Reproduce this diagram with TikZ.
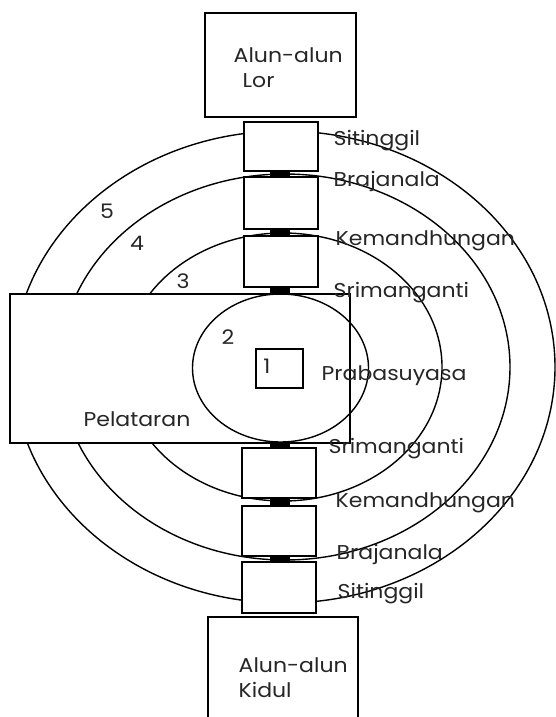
\documentclass[tikz,border=0pt]{standalone}
\usepackage{fontspec}
\setmainfont[FakeStretch=1.1]{Poppins}
\usetikzlibrary{positioning}

\begin{document}
\begin{tikzpicture}[x=1pt,y=-1pt,line width=1.4pt,
                    box/.style={draw,fill=white,inner sep=0pt},
                    gatebox/.style={box,minimum width=74pt},
                    bar/.style={fill=black,inner sep=0pt,minimum width=20pt,minimum height=7pt},
                    lbl/.style={anchor=base west,inner sep=0pt,text=black!85,
                                font=\fontsize{20}{24}\selectfont},
                    num/.style={inner sep=0pt,text=black!85,font=\fontsize{20}{24}\selectfont}]
  \useasboundingbox (0,0) rectangle (555,717);
  % rings 3, 4, 5
  \draw (284,367) ellipse [x radius=271pt, y radius=236pt];
  \draw (285,367) ellipse [x radius=225pt, y radius=193pt];
  \draw (283,367) ellipse [x radius=159pt, y radius=134pt];
  % court
  \node[box,minimum width=340pt,minimum height=149pt] (pel) at (180,368.5) {};
  \draw (280.5,368) ellipse [x radius=88pt, y radius=74pt];
  \node[draw,inner sep=0pt,minimum width=47pt,minimum height=39pt] (core) at (279.5,368.5) {};
  % squares north and south
  \node[box,minimum width=151pt,minimum height=104pt] (lor) at (280.5,65) {};
  \node[box,minimum width=150pt,minimum height=110pt] (kidul) at (283,672) {};
  % gates north
  \node[gatebox,minimum height=49pt] (g1) at (281,146.5) {};
  \node[gatebox,minimum height=52pt] (g2) at (281,203) {};
  \node[gatebox,minimum height=51pt] (g3) at (281,261.5) {};
  % gates south
  \node[gatebox,minimum height=50pt] (h1) at (279,473) {};
  \node[gatebox,minimum height=50pt] (h2) at (279,531) {};
  \node[gatebox,minimum height=51pt] (h3) at (279,587.5) {};
  % doors
  \node[bar] (d1) at (280,174) {};
  \node[bar] (d2) at (280,232.5) {};
  \node[bar] (d3) at (280,290.5) {};
  \node[bar,minimum height=5pt] (d4) at (280,445.5) {};
  \node[bar] (d5) at (280,502) {};
  \node[bar] (d6) at (280,559) {};
  % labels
  \node[lbl] (t1) at (233,63) {Alun-alun};
  \node[lbl] (t2) at (242,87) {Lor};
  \node[lbl] (t3) at (238,672) {Alun-alun};
  \node[lbl] (t4) at (238,697) {Kidul};
  \node[lbl] (l1) at (333,145) {Sitinggil};
  \node[lbl] (l2) at (333,186) {Brajanala};
  \node[lbl] (l3) at (335,245) {Kemandhungan};
  \node[lbl] (l4) at (333,297) {Srimanganti};
  \node[lbl] (l5) at (321,380) {Prabasuyasa};
  \node[lbl] (l6) at (328,453) {Srimanganti};
  \node[lbl] (l7) at (335,507) {Kemandhungan};
  \node[lbl] (l8) at (336,559) {Brajanala};
  \node[lbl] (l9) at (337,598) {Sitinggil};
  \node[lbl] (l10) at (83,426) {Pelataran};
  % ring numbers
  \node[num] (n5) at (107,211) {5};
  \node[num] (n4) at (137,243) {4};
  \node[num] (n3) at (183,281) {3};
  \node[num] (n2) at (228,337) {2};
  \node[num] (n1) at (267,366) {1};
\end{tikzpicture}
\end{document}
